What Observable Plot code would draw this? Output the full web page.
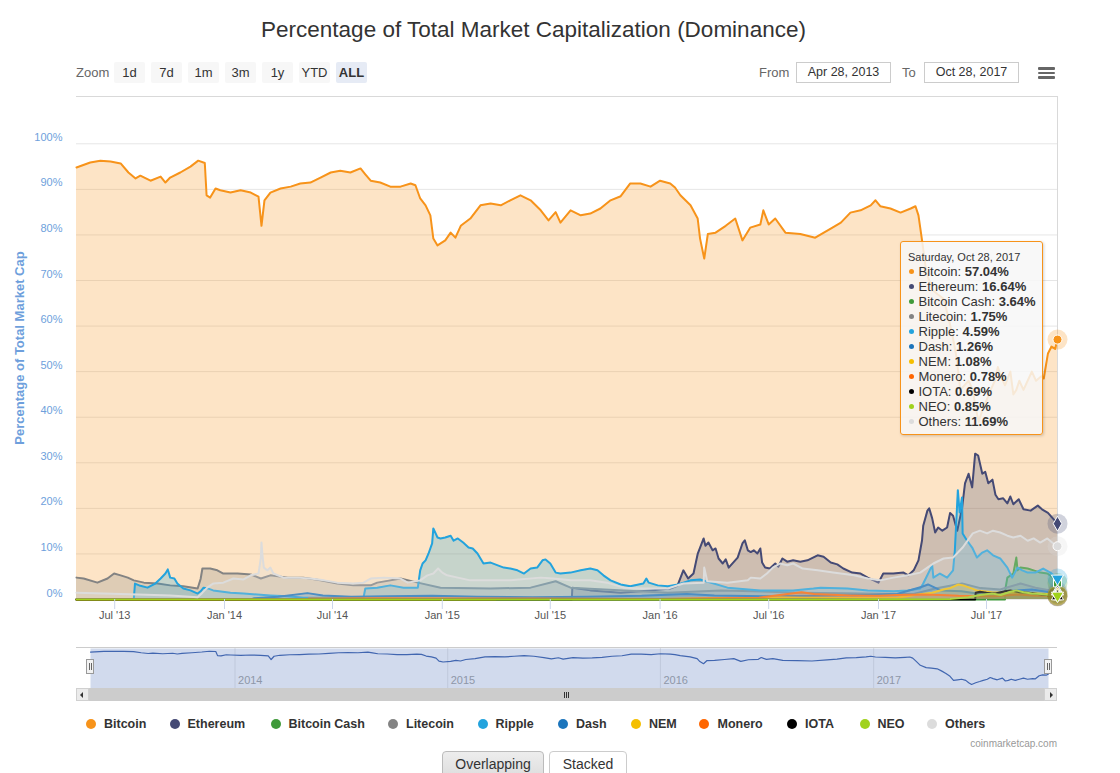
<!DOCTYPE html>
<html><head><meta charset="utf-8">
<script src="https://cdn.jsdelivr.net/npm/d3@7"></script>
<script src="https://cdn.jsdelivr.net/npm/@observablehq/plot@0.6"></script>
<style>
body{margin:0;background:#fff;}
#root{position:relative;width:1120px;height:773px;overflow:hidden;font-family:"Liberation Sans",Arial,sans-serif;color:#333;}
.a{position:absolute;}
.zb{position:absolute;top:62px;width:31px;height:21px;line-height:21px;text-align:center;background:#f7f7f7;font-size:13px;color:#333;border-radius:2px;}
.box{position:absolute;top:62px;height:21px;line-height:19px;box-sizing:border-box;border:1px solid #ccc;text-align:center;font-size:12.5px;color:#333;}
.ham{position:absolute;left:1038px;width:17px;height:2.6px;background:#666;border-radius:1px;}
.lg{position:absolute;top:716px;height:16px;line-height:16px;font-size:12.5px;font-weight:bold;color:#333;white-space:nowrap;}
.ld{position:absolute;top:719px;width:10px;height:10px;border-radius:50%;}
#tip div{height:15px;line-height:15px;font-size:13px;white-space:nowrap;color:#333;}
#tip .dt{height:14px;line-height:14px;font-size:11px;}
#tip i{display:inline-block;width:5px;height:5px;border-radius:50%;margin:0 4.5px 2px 1px;vertical-align:middle;}
svg{overflow:visible;}
</style></head><body><div id="root">
<div class="a" style="left:0;width:1067px;top:17px;line-height:26px;text-align:center;font-size:22.5px;color:#333;">Percentage of Total Market Capitalization (Dominance)</div>
<div class="a" style="left:76px;top:62px;line-height:21px;font-size:13px;color:#666;">Zoom</div>
<div class="zb" style="left:114px">1d</div>
<div class="zb" style="left:151px">7d</div>
<div class="zb" style="left:188px">1m</div>
<div class="zb" style="left:225px">3m</div>
<div class="zb" style="left:262px">1y</div>
<div class="zb" style="left:299px">YTD</div>
<div class="zb" style="left:336px;background:#e6ebf5;font-weight:bold;">ALL</div>
<div class="a" style="left:759px;top:62px;line-height:21px;font-size:13px;color:#666;">From</div>
<div class="box" style="left:796px;width:95px;">Apr 28, 2013</div>
<div class="a" style="left:902px;top:62px;line-height:21px;font-size:13px;color:#666;">To</div>
<div class="box" style="left:924px;width:95px;">Oct 28, 2017</div>
<div class="ham" style="top:67px"></div><div class="ham" style="top:71.5px"></div><div class="ham" style="top:76px"></div>
<div id="chart" class="a" style="left:0;top:86px;"></div>
<div class="a" style="left:19px;top:347.5px;width:0;height:0;"><div style="position:absolute;transform:translate(-50%,-50%) rotate(-90deg);white-space:nowrap;font-size:13px;font-weight:bold;color:#6e9fdc;">Percentage of Total Market Cap</div></div>
<div id="tip" class="a" style="left:900px;top:241px;width:143px;height:194px;box-sizing:border-box;border:1px solid #f7931a;border-radius:3px;background:rgba(247,247,247,0.85);box-shadow:1px 1px 3px rgba(0,0,0,0.18);padding:8px 0 0 7px;"></div>
<div class="a" style="left:76px;top:647px;width:981px;height:1px;background:#cccccc;"></div>
<div id="nav" class="a" style="left:0;top:640px;"></div>
<div class="a" style="left:76px;top:688px;width:981px;height:13px;background:#f2f2f2;"></div>
<div class="a" style="left:89px;top:688px;width:955px;height:13px;background:#cccccc;"></div>
<div class="a" style="left:564px;top:691.5px;width:1px;height:6px;background:#333;"></div>
<div class="a" style="left:566px;top:691.5px;width:1px;height:6px;background:#333;"></div>
<div class="a" style="left:568px;top:691.5px;width:1px;height:6px;background:#333;"></div>
<div class="a" style="left:76px;top:688px;width:13px;height:13px;box-sizing:border-box;background:#ebebeb;border:1px solid #d0d0d0;"></div>
<div class="a" style="left:80px;top:691.5px;width:0;height:0;border-top:3px solid transparent;border-bottom:3px solid transparent;border-right:3px solid #333;"></div>
<div class="a" style="left:1044px;top:688px;width:13px;height:13px;box-sizing:border-box;background:#ebebeb;border:1px solid #d0d0d0;"></div>
<div class="a" style="left:1050px;top:691.5px;width:0;height:0;border-top:3px solid transparent;border-bottom:3px solid transparent;border-left:3px solid #333;"></div>
<div class="a" style="left:86px;top:659px;width:8px;height:15px;box-sizing:border-box;background:#f2f2f2;border:1px solid #999;"><div style="position:absolute;left:1.5px;top:3px;width:1px;height:7px;background:#666"></div><div style="position:absolute;left:3.5px;top:3px;width:1px;height:7px;background:#666"></div></div>
<div class="a" style="left:1044px;top:659px;width:8px;height:15px;box-sizing:border-box;background:#f2f2f2;border:1px solid #999;"><div style="position:absolute;left:1.5px;top:3px;width:1px;height:7px;background:#666"></div><div style="position:absolute;left:3.5px;top:3px;width:1px;height:7px;background:#666"></div></div>
<div id="legend"></div>
<div class="a" style="right:63px;top:738px;line-height:12px;font-size:10px;color:#999;">coinmarketcap.com</div>
<div class="a" style="left:442px;top:751px;width:102px;height:30px;box-sizing:border-box;border:1px solid #bbb;border-radius:4px;background:linear-gradient(#ededed,#dcdcdc);text-align:center;font-size:14px;line-height:15px;padding-top:5px;color:#333;">Overlapping</div>
<div class="a" style="left:549px;top:751px;width:78px;height:30px;box-sizing:border-box;border:1px solid #ccc;border-radius:4px;background:#fff;text-align:center;font-size:14px;line-height:15px;padding-top:5px;color:#333;">Stacked</div>
</div>
<script>
// ---------- DATA ----------
const seriesNames = ["Bitcoin","Ethereum","Bitcoin Cash","Litecoin","Ripple","Dash","NEM","Monero","IOTA","NEO","Others"];
const seriesColors = ["#f7931a","#454a75","#3f9a3a","#838383","#23a3dd","#1c75bc","#f5bf00","#ff6600","#000000","#a0d21c","#dcdcdc"];
const tooltipDate = "Saturday, Oct 28, 2017";
const tooltipValues = [57.04,16.64,3.64,1.75,4.59,1.26,1.08,0.78,0.69,0.85,11.69];

const bitcoin = [["2013-04-28",94.8],["2013-05-21",95.9],["2013-06-07",96.3],["2013-06-24",96.1],["2013-07-11",95.7],["2013-07-24",93.7],["2013-08-05",92.4],["2013-08-13",93.0],["2013-08-30",91.9],["2013-09-16",92.8],["2013-09-24",91.5],["2013-10-02",92.6],["2013-10-19",93.7],["2013-11-05",95.0],["2013-11-18",96.3],["2013-11-29",95.8],["2013-12-02",88.7],["2013-12-08",88.2],["2013-12-17",90.2],["2013-12-25",89.8],["2014-01-11",89.3],["2014-01-28",89.8],["2014-02-14",89.3],["2014-02-27",88.4],["2014-03-04",82.0],["2014-03-09",87.6],["2014-03-19",89.3],["2014-04-05",90.2],["2014-04-22",90.6],["2014-05-08",91.3],["2014-05-25",91.5],["2014-06-11",92.6],["2014-06-28",93.7],["2014-07-14",94.1],["2014-07-31",93.7],["2014-08-17",94.6],["2014-08-25",93.3],["2014-09-03",91.9],["2014-09-19",91.5],["2014-10-06",90.6],["2014-10-23",90.6],["2014-11-09",91.3],["2014-11-17",90.9],["2014-11-25",88.0],["2014-12-04",86.5],["2014-12-12",84.3],["2014-12-17",79.2],["2014-12-24",77.7],["2015-01-06",78.8],["2015-01-15",80.5],["2015-01-23",79.4],["2015-02-01",82.0],["2015-02-17",83.6],["2015-03-06",86.5],["2015-03-23",86.9],["2015-04-09",86.5],["2015-04-25",87.6],["2015-05-12",88.7],["2015-05-29",87.6],["2015-06-15",85.4],["2015-06-28",83.2],["2015-07-10",85.0],["2015-07-18",82.7],["2015-08-04",85.4],["2015-08-21",84.3],["2015-09-06",84.7],["2015-09-23",85.8],["2015-10-10",87.6],["2015-10-27",88.5],["2015-11-12",91.3],["2015-11-29",91.3],["2015-12-16",90.6],["2016-01-01",91.9],["2016-01-18",91.3],["2016-01-26",90.4],["2016-02-04",88.7],["2016-02-21",86.5],["2016-03-04",83.6],["2016-03-08",79.2],["2016-03-15",74.8],["2016-03-21",80.2],["2016-04-03",80.5],["2016-04-20",82.0],["2016-05-06",83.6],["2016-05-18",78.8],["2016-05-31",81.6],["2016-06-17",82.3],["2016-06-22",85.4],["2016-07-01",82.3],["2016-07-12",83.6],["2016-07-29",80.5],["2016-08-23",80.2],["2016-09-17",79.4],["2016-10-13",81.4],["2016-10-30",82.7],["2016-11-15",84.9],["2016-12-02",85.4],["2016-12-19",86.5],["2016-12-27",87.6],["2017-01-04",86.3],["2017-01-21",85.8],["2017-02-07",84.9],["2017-02-24",85.8],["2017-03-04",86.3],["2017-03-09",84.3],["2017-03-15",78.8],["2017-03-22",72.0],["2017-04-01",68.0],["2017-04-10",67.0],["2017-04-20",66.0],["2017-04-28",62.0],["2017-05-05",58.0],["2017-05-12",53.0],["2017-05-18",46.0],["2017-05-25",47.0],["2017-06-01",48.0],["2017-06-08",46.0],["2017-06-13",42.0],["2017-06-18",39.0],["2017-06-25",42.0],["2017-07-02",44.0],["2017-07-08",46.0],["2017-07-15",48.0],["2017-07-20",51.0],["2017-07-25",49.0],["2017-08-01",47.0],["2017-08-10",50.0],["2017-08-15",45.0],["2017-08-20",46.0],["2017-08-25",48.0],["2017-09-01",46.0],["2017-09-08",48.0],["2017-09-15",50.0],["2017-09-22",48.0],["2017-10-01",49.0],["2017-10-05",48.5],["2017-10-12",54.0],["2017-10-18",55.5],["2017-10-24",55.0],["2017-10-28",57.04]];

const ethereum = [["2013-04-28",0],["2015-08-06",0],["2015-08-07",2.6],["2015-09-06",2.0],["2015-10-27",1.5],["2015-12-16",2.0],["2016-01-18",2.4],["2016-01-30",3.0],["2016-02-09",6.4],["2016-02-17",4.6],["2016-02-26",5.7],["2016-03-04",10.0],["2016-03-14",13.4],["2016-03-17",11.8],["2016-03-22",12.5],["2016-03-29",10.8],["2016-04-03",11.2],["2016-04-08",9.0],["2016-04-15",7.9],["2016-04-20",8.8],["2016-04-25",7.0],["2016-05-10",9.2],["2016-05-18",12.3],["2016-05-22",13.0],["2016-05-27",10.8],["2016-06-01",10.4],["2016-06-06",10.8],["2016-06-12",10.1],["2016-06-17",11.2],["2016-06-20",8.1],["2016-06-25",7.0],["2016-07-03",6.8],["2016-07-12",7.9],["2016-07-17",7.2],["2016-07-24",9.0],["2016-08-01",8.3],["2016-08-11",8.6],["2016-08-23",8.3],["2016-09-04",8.6],["2016-09-21",9.7],["2016-10-01",9.4],["2016-10-13",8.1],["2016-10-24",7.7],["2016-11-03",6.8],["2016-11-18",5.9],["2016-12-02",5.7],["2016-12-14",4.8],["2016-12-24",4.2],["2017-01-01",3.7],["2017-01-09",5.7],["2017-01-26",5.7],["2017-02-12",5.9],["2017-02-20",5.3],["2017-03-01",6.4],["2017-03-09",8.6],["2017-03-15",13.0],["2017-03-17",16.2],["2017-03-24",19.5],["2017-03-27",20.0],["2017-04-01",17.8],["2017-04-06",14.7],["2017-04-11",15.8],["2017-04-18",15.1],["2017-04-26",15.8],["2017-05-01",19.0],["2017-05-06",18.4],["2017-05-13",15.1],["2017-05-21",20.0],["2017-05-26",25.5],["2017-06-01",27.6],["2017-06-07",24.6],["2017-06-12",32.0],["2017-06-17",31.6],["2017-06-24",27.6],["2017-06-29",28.0],["2017-07-04",25.5],["2017-07-11",26.3],["2017-07-16",23.0],["2017-07-21",22.0],["2017-07-29",22.2],["2017-08-05",21.1],["2017-08-10",22.6],["2017-08-15",20.9],["2017-08-24",22.0],["2017-09-01",19.8],["2017-09-13",19.5],["2017-09-25",20.6],["2017-10-02",19.8],["2017-10-12",19.0],["2017-10-28",16.64]];

const bitcoinCash = [["2013-04-28",0],["2017-08-01",0],["2017-08-02",2.6],["2017-08-05",4.8],["2017-08-15",5.7],["2017-08-20",9.2],["2017-08-22",6.4],["2017-08-27",7.0],["2017-09-08",6.8],["2017-09-18",6.4],["2017-09-29",5.9],["2017-10-11",5.7],["2017-10-21",4.8],["2017-10-28",3.64]];

const litecoin = [["2013-04-28",4.8],["2013-05-10",4.6],["2013-06-02",3.7],["2013-06-19",4.6],["2013-06-30",5.7],["2013-07-11",5.3],["2013-07-23",4.8],["2013-08-02",4.2],["2013-08-19",3.7],["2013-09-11",3.5],["2013-10-02",3.1],["2013-10-24",2.9],["2013-11-17",2.4],["2013-11-22",4.5],["2013-11-25",6.8],["2013-12-08",6.8],["2013-12-20",6.4],["2013-12-30",5.7],["2014-01-23",5.7],["2014-02-14",5.5],["2014-03-03",4.6],["2014-03-19",5.3],["2014-04-17",4.8],["2014-05-13",4.8],["2014-06-11",4.2],["2014-07-09",3.5],["2014-08-05",3.1],["2014-09-03",3.1],["2014-09-14",3.7],["2014-10-06",4.2],["2014-10-23",4.6],["2014-11-21",3.7],["2014-12-29",2.6],["2015-03-23",2.4],["2015-05-29",2.6],["2015-07-10",4.0],["2015-08-04",2.6],["2015-11-01",2.0],["2016-01-14",1.5],["2016-04-12",2.0],["2016-08-23",1.5],["2016-12-02",1.3],["2017-03-01",1.2],["2017-04-06",2.4],["2017-05-01",3.0],["2017-05-21",3.5],["2017-06-21",2.5],["2017-07-24",2.2],["2017-08-27",3.5],["2017-09-21",2.6],["2017-10-16",2.0],["2017-10-28",1.75]];

const ripple = [["2013-04-28",0],["2013-08-02",0],["2013-08-04",3.5],["2013-08-13",3.0],["2013-08-25",2.6],["2013-09-07",3.5],["2013-09-16",4.6],["2013-09-24",5.7],["2013-09-28",6.6],["2013-10-02",4.8],["2013-10-09",4.6],["2013-10-14",3.5],["2013-10-24",2.4],["2013-11-05",2.0],["2013-11-17",1.3],["2013-11-22",1.8],["2013-11-27",2.6],["2013-12-05",2.4],["2013-12-13",2.0],["2014-01-11",1.5],["2014-02-02",1.3],["2014-02-25",1.1],["2014-03-19",0.9],["2014-04-17",0.7],["2014-05-13",0.4],["2014-07-09",0.4],["2014-08-22",0.4],["2014-08-25",2.4],["2014-09-14",2.6],["2014-10-06",3.1],["2014-10-28",2.6],["2014-11-21",2.6],["2014-11-25",6.4],["2014-11-29",7.9],["2014-12-04",8.6],["2014-12-09",10.1],["2014-12-15",12.3],["2014-12-17",15.6],["2014-12-24",13.6],["2014-12-29",13.4],["2015-01-06",13.6],["2015-01-15",14.0],["2015-01-20",12.9],["2015-01-27",13.4],["2015-02-05",12.5],["2015-02-14",11.4],["2015-02-21",11.2],["2015-03-01",10.1],["2015-03-06",9.0],["2015-03-11",7.9],["2015-03-23",8.1],["2015-04-04",7.5],["2015-04-14",7.0],["2015-04-25",6.8],["2015-05-07",6.4],["2015-05-18",5.7],["2015-05-29",6.8],["2015-06-09",7.0],["2015-06-18",8.6],["2015-06-23",8.8],["2015-07-01",7.9],["2015-07-10",5.9],["2015-07-18",5.7],["2015-08-04",5.9],["2015-08-21",6.4],["2015-09-06",6.8],["2015-09-18",6.4],["2015-09-28",5.3],["2015-10-10",4.2],["2015-10-27",3.3],["2015-11-12",2.9],["2015-12-04",3.5],["2015-12-09",4.6],["2015-12-13",3.7],["2015-12-28",3.1],["2016-01-14",2.9],["2016-01-31",3.3],["2016-02-21",4.2],["2016-03-08",4.4],["2016-04-23",2.6],["2016-06-17",2.0],["2016-08-11",2.0],["2016-09-14",2.4],["2016-09-26",2.6],["2016-11-10",2.4],["2016-12-14",2.0],["2017-01-26",1.8],["2017-02-19",2.0],["2017-03-12",2.4],["2017-03-17",3.5],["2017-04-01",7.5],["2017-04-03",4.8],["2017-04-14",5.7],["2017-04-26",4.8],["2017-05-06",6.4],["2017-05-09",10.8],["2017-05-14",24.0],["2017-05-17",19.1],["2017-05-21",22.4],["2017-05-22",14.5],["2017-05-29",13.0],["2017-06-07",11.4],["2017-06-15",9.2],["2017-06-24",10.3],["2017-07-02",10.8],["2017-07-12",9.7],["2017-07-24",9.0],["2017-08-05",7.0],["2017-08-13",4.8],["2017-08-22",7.0],["2017-08-30",6.4],["2017-09-08",5.9],["2017-09-21",5.9],["2017-10-04",6.8],["2017-10-16",5.9],["2017-10-28",4.59]];

const dash = [["2013-04-28",0],["2014-02-14",0],["2014-02-20",0.3],["2014-04-01",0.6],["2014-05-20",1.4],["2014-06-15",0.9],["2014-08-01",0.6],["2014-10-01",0.7],["2014-12-15",0.8],["2015-03-01",0.6],["2015-06-01",0.5],["2015-09-01",0.6],["2015-12-01",0.8],["2016-02-15",1.2],["2016-04-01",0.9],["2016-07-01",0.7],["2016-10-01",0.8],["2016-12-15",1.0],["2017-02-01",1.2],["2017-03-15",2.8],["2017-03-25",3.3],["2017-04-15",2.0],["2017-05-20",1.8],["2017-06-15",1.3],["2017-07-15",1.4],["2017-08-20",2.0],["2017-09-15",2.2],["2017-10-10",1.7],["2017-10-28",1.26]];

const nem = [["2013-04-28",0],["2015-03-31",0],["2015-04-01",0.1],["2016-01-01",0.1],["2016-06-15",0.3],["2016-07-01",0.5],["2016-09-01",0.4],["2016-12-01",0.4],["2017-02-01",0.4],["2017-03-15",1.2],["2017-04-01",1.5],["2017-04-20",2.2],["2017-05-01",2.5],["2017-05-15",3.3],["2017-05-25",3.0],["2017-06-15",2.0],["2017-07-10",1.6],["2017-08-10",1.5],["2017-09-10",1.4],["2017-10-10",1.2],["2017-10-28",1.08]];

const monero = [["2013-04-28",0],["2014-05-21",0],["2014-05-22",0.2],["2014-09-15",0.3],["2015-06-01",0.2],["2016-01-01",0.1],["2016-03-15",0.3],["2016-06-15",0.4],["2016-08-25",1.6],["2016-09-15",1.2],["2016-11-15",0.9],["2017-01-01",0.8],["2017-02-01",1.0],["2017-03-15",1.1],["2017-04-15",1.0],["2017-05-15",0.8],["2017-06-15",0.7],["2017-07-15",0.7],["2017-08-25",1.1],["2017-09-15",0.9],["2017-10-28",0.78]];

const iota = [["2013-04-28",0],["2017-06-12",0],["2017-06-13",1.5],["2017-06-20",1.7],["2017-07-01",1.5],["2017-07-16",1.3],["2017-08-01",1.8],["2017-08-10",2.0],["2017-08-25",1.6],["2017-09-10",1.5],["2017-09-25",1.2],["2017-10-10",1.0],["2017-10-28",0.69]];

const neo = [["2013-04-28",0],["2016-09-08",0],["2016-09-09",0.02],["2017-02-01",0.05],["2017-05-01",0.1],["2017-06-01",0.5],["2017-06-20",1.0],["2017-07-10",1.3],["2017-07-25",1.0],["2017-08-10",1.7],["2017-08-20",2.0],["2017-09-01",1.6],["2017-09-15",1.3],["2017-10-01",1.2],["2017-10-15",1.0],["2017-10-28",0.85]];

const others = [["2013-04-28",1.5],["2013-06-13",1.3],["2013-08-09",1.1],["2013-10-02",0.9],["2013-11-17",0.5],["2013-11-25",1.5],["2013-12-03",2.6],["2013-12-13",3.5],["2013-12-30",3.7],["2014-01-16",4.6],["2014-02-02",4.4],["2014-02-14",5.3],["2014-02-27",5.7],["2014-03-03",9.2],["2014-03-04",12.5],["2014-03-06",9.2],["2014-03-08",7.0],["2014-03-14",6.4],["2014-03-19",7.0],["2014-03-24",5.7],["2014-04-10",4.8],["2014-05-03",4.8],["2014-05-25",4.6],["2014-06-17",4.2],["2014-07-09",3.7],["2014-08-05",3.5],["2014-08-22",3.7],["2014-09-03",4.6],["2014-09-25",4.8],["2014-10-23",4.6],["2014-11-04",3.7],["2014-11-25",4.2],["2014-12-07",5.3],["2014-12-17",5.7],["2014-12-25",6.8],["2015-01-01",5.9],["2015-01-09",5.3],["2015-01-27",4.8],["2015-02-17",4.2],["2015-04-25",4.2],["2015-06-15",4.8],["2015-07-06",4.6],["2015-08-04",4.2],["2015-09-06",4.2],["2015-10-04",3.7],["2015-11-01",2.6],["2015-12-04",2.4],["2016-01-14",2.4],["2016-02-09",3.5],["2016-03-14",3.7],["2016-03-15",7.0],["2016-03-20",4.0],["2016-04-23",3.7],["2016-05-27",4.2],["2016-06-01",4.8],["2016-06-17",4.6],["2016-06-28",5.7],["2016-07-08",7.0],["2016-07-20",7.9],["2016-08-01",7.5],["2016-08-11",7.9],["2016-08-27",6.8],["2016-09-21",6.4],["2016-10-17",5.9],["2016-11-21",5.3],["2016-12-14",4.6],["2017-01-04",4.2],["2017-01-26",4.8],["2017-02-19",5.3],["2017-03-12",5.9],["2017-03-24",7.0],["2017-04-03",7.9],["2017-04-20",9.0],["2017-05-06",9.2],["2017-05-22",11.4],["2017-06-03",13.6],["2017-06-08",14.5],["2017-06-20",15.1],["2017-07-02",14.5],["2017-07-12",15.1],["2017-07-24",14.7],["2017-08-05",14.0],["2017-08-15",13.6],["2017-08-27",14.0],["2017-09-08",12.9],["2017-09-18",13.4],["2017-09-29",12.5],["2017-10-11",13.4],["2017-10-21",12.3],["2017-10-28",11.69]];

const xTickDates = ["2013-07-01","2014-01-01","2014-07-01","2015-01-01","2015-07-01","2016-01-01","2016-07-01","2017-01-01","2017-07-01"];
const xTickLabels = ["Jul '13","Jan '14","Jul '14","Jan '15","Jul '15","Jan '16","Jul '16","Jan '17","Jul '17"];
const yTicks = [0,10,20,30,40,50,60,70,80,90,100];
const navYearDates = ["2014-01-01","2015-01-01","2016-01-01","2017-01-01"];
const navYearLabels = ["2014","2015","2016","2017"];
const dateRange = ["2013-04-28","2017-10-28"];

// ---------- BUILD ----------
const parse = d3.utcParse("%Y-%m-%d");
const allSeries = [bitcoin, ethereum, bitcoinCash, litecoin, ripple, dash, nem, monero, iota, neo, others];
const symbols = ["circle","diamond","square","triangle","triangle","circle","diamond","square","triangle","triangle","circle"];
const rotations = [0,0,0,0,180,0,0,0,0,180,0];
const tables = allSeries.map((s, i) => s.map(([d, v]) => ({date: parse(d), value: v, series: seriesNames[i]})));
const xDomain = dateRange.map(parse);
const xTicks = xTickDates.map(parse);
const xLabel = new Map(xTicks.map((d, i) => [+d, xTickLabels[i]]));
const navTicks = navYearDates.map(parse);
const navLabel = new Map(navTicks.map((d, i) => [+d, navYearLabels[i]]));
const lastPts = tables.map((t, i) => ({...t[t.length - 1], color: seriesColors[i], sym: symbols[i], rot: rotations[i]}));
const font = "font-family:'Liberation Sans',Arial,sans-serif;font-size:11px;background:transparent;overflow:visible;";

const seriesMarks = tables.flatMap((t, i) => [
  Plot.areaY(t, {x: "date", y: "value", fill: seriesColors[i], fillOpacity: 0.25}),
  Plot.lineY(t, {x: "date", y: "value", stroke: seriesColors[i], strokeWidth: 2, strokeLinejoin: "round"})
]);

const main = Plot.plot({
  width: 1120, height: 548,
  marginLeft: 76, marginRight: 63, marginTop: 10, marginBottom: 35,
  style: font,
  x: {type: "utc", domain: xDomain},
  y: {domain: [0, 110.38]},
  color: {type: "identity"},
  marks: [
    Plot.gridY(yTicks, {stroke: "#e6e6e6", strokeOpacity: 1}),
    Plot.frame({anchor: "top", stroke: "#d9d9d9"}),
    Plot.frame({anchor: "right", stroke: "#d9d9d9"}),
    ...seriesMarks,
    Plot.axisY(yTicks, {tickFormat: d => d + "%", tickSize: 0, tickPadding: 14, dy: -6.5, fill: "#6e9fdc", label: null}),
    Plot.axisX(xTicks, {tickFormat: d => xLabel.get(+d), tickSize: 10, tickPadding: 2, stroke: "#ccd6eb", fill: "#555", label: null}),
    Plot.dot(lastPts, {x: "date", y: "value", r: 10, fill: "color", fillOpacity: 0.25}),
    Plot.dot(lastPts, {x: "date", y: "value", r: 4.5, fill: "color", symbol: "sym", rotate: "rot", stroke: "#fff", strokeWidth: 1})
  ]
});
document.getElementById("chart").appendChild(main);

const nav = Plot.plot({
  width: 1120, height: 48,
  marginLeft: 90, marginRight: 72, marginTop: 8, marginBottom: 0,
  style: font,
  x: {type: "utc", domain: xDomain},
  y: {domain: [32, 101], axis: null},
  marks: [
    Plot.gridX(navTicks, {stroke: "#e6e6e6", strokeOpacity: 1}),
    Plot.frame({fill: "rgb(102,133,194)", fillOpacity: 0.3, stroke: null}),
    Plot.lineY(tables[0], {x: "date", y: "value", stroke: "#4166b0", strokeWidth: 1.2}),
    Plot.axisX(navTicks, {tickFormat: d => navLabel.get(+d), tickSize: 0, tickPadding: -12.5, textAnchor: "start", dx: 3, fill: "#8e97a8", label: null})
  ]
});
document.getElementById("nav").appendChild(nav);

// tooltip
const tip = document.getElementById("tip");
const dt = document.createElement("div"); dt.className = "dt"; dt.textContent = tooltipDate; tip.appendChild(dt);
seriesNames.forEach((n, i) => {
  const row = document.createElement("div");
  const b = document.createElement("i"); b.style.background = seriesColors[i];
  row.appendChild(b);
  row.appendChild(document.createTextNode(n + ": "));
  const v = document.createElement("b"); v.textContent = tooltipValues[i].toFixed(2) + "%";
  row.appendChild(v);
  tip.appendChild(row);
});

// legend
const legendDotX = [91, 175, 275.5, 392.5, 482.5, 563, 636, 704, 792, 865, 932];
const legendTextX = [104, 187.5, 288.5, 406, 495.5, 576, 649, 717.5, 805, 877.5, 945];
const lg = document.getElementById("legend");
seriesNames.forEach((n, i) => {
  const d = document.createElement("div"); d.className = "ld";
  d.style.left = (legendDotX[i] - 5) + "px"; d.style.background = seriesColors[i];
  lg.appendChild(d);
  const t = document.createElement("div"); t.className = "lg";
  t.style.left = legendTextX[i] + "px"; t.textContent = n;
  lg.appendChild(t);
});
</script>
</body></html>
